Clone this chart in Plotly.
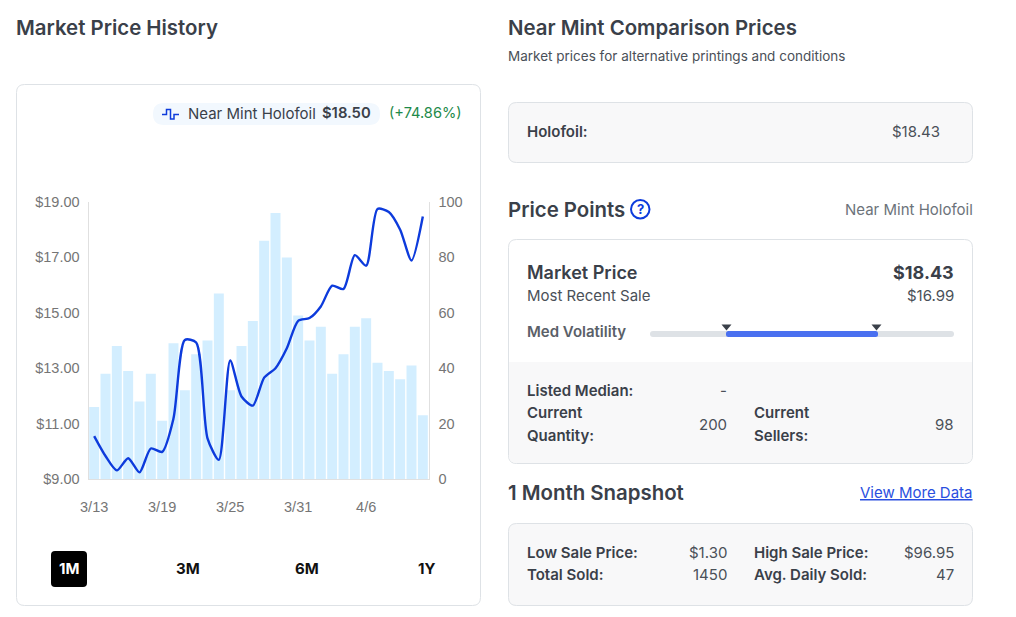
import plotly.graph_objects as go

W, H = 1016, 617

dates = ["3/13","3/14","3/15","3/16","3/17","3/18","3/19","3/20","3/21","3/22",
         "3/23","3/24","3/25","3/26","3/27","3/28","3/29","3/30","3/31","4/1",
         "4/2","4/3","4/4","4/5","4/6","4/7","4/8","4/9","4/10","4/11"]
prices = [10.55,9.83,9.31,9.75,9.24,10.10,9.98,11.19,14.02,13.93,
          10.47,9.69,13.28,11.98,11.65,12.66,13.00,13.72,14.71,14.81,
          15.23,15.98,15.86,17.08,16.70,18.75,18.64,18.00,16.89,18.48]
sold = [26,38,48,39,28,38,21,49,32,45,50,67,32,48,57,86,96,80,59,50,
        55,38,45,55,58,42,39,36,41,23]
price_ticks = [9,11,13,15,17,19]
price_labels = ["$9.00","$11.00","$13.00","$15.00","$17.00","$19.00"]
sold_ticks = [0,20,40,60,80,100]
date_ticks = ["3/13","3/19","3/25","3/31","4/6"]

DARK = "#3a4049"
MID = "#4a5058"
GREY = "#6c737a"
BORDER = "#dee2e6"
PANEL = "#f8f8f9"
BLUE = "#0d3bdc"
FONT = "Inter"


def px(x):
    return x / W


def py(y):
    return 1 - y / H


def rr(x0, y0, x1, y1, r=8, rb=None):
    """Rounded rect as an SVG path in paper units (rb: bottom radius)."""
    rb = r if rb is None else rb
    pts = [
        f"M{px(x0+r)},{py(y0)}", f"L{px(x1-r)},{py(y0)}",
        f"Q{px(x1)},{py(y0)} {px(x1)},{py(y0+r)}",
        f"L{px(x1)},{py(y1-rb)}",
        f"Q{px(x1)},{py(y1)} {px(x1-rb)},{py(y1)}",
        f"L{px(x0+rb)},{py(y1)}",
        f"Q{px(x0)},{py(y1)} {px(x0)},{py(y1-rb)}",
        f"L{px(x0)},{py(y0+r)}",
        f"Q{px(x0)},{py(y0)} {px(x0+r)},{py(y0)}", "Z",
    ]
    return "".join(pts)


shapes = []


def box(x0, y0, x1, y1, r=8, fill="white", line=BORDER, lw=1, rb=None):
    shapes.append(dict(type="path", xref="paper", yref="paper", layer="below",
                       path=rr(x0, y0, x1, y1, r, rb), fillcolor=fill,
                       line=dict(color=line, width=lw)))


def poly(points, fill=None, line=None, lw=1.5, close=False):
    p = "M" + "L".join(f"{px(a)},{py(b)}" for a, b in points) + ("Z" if close else "")
    shapes.append(dict(type="path", xref="paper", yref="paper", layer="above", path=p,
                       fillcolor=fill if fill else "rgba(0,0,0,0)",
                       line=dict(color=line if line else "rgba(0,0,0,0)", width=lw if line else 0)))


annotations = []


def txt(x, y, s, size=15, color=DARK, weight=400, anchor="left", **kw):
    f = dict(family=FONT, size=size, color=color, weight=weight)
    f.update(kw)
    annotations.append(dict(xref="paper", yref="paper", x=px(x), y=py(y), text=s,
                            showarrow=False, xanchor=anchor, yanchor="middle",
                            borderpad=0, borderwidth=0, font=f))


# cards
box(16.5, 84.5, 480.5, 605.5)
box(508.5, 102.5, 972.5, 162.5, fill=PANEL)
box(508.5, 239.5, 972.5, 463.5)
shapes.append(dict(type="path", xref="paper", yref="paper", layer="below",
                   path=rr(509, 362, 972, 463, 0.1, 8), fillcolor=PANEL,
                   line=dict(width=0)))
box(508.5, 523.5, 972.5, 605.5, fill=PANEL)

# legend pill + step icon
box(153, 103, 380, 125, r=11, fill="#f2f8fe", line="#f2f8fe", lw=0)
poly([(162, 114.5), (166.5, 114.5), (166.5, 109.5), (170.5, 109.5), (170.5, 119),
      (174, 119), (174, 114.5), (179, 114.5)], line=BLUE, lw=1.5)

# range buttons
box(51, 551, 87, 587, r=4, fill="#000000", line="#000000", lw=0)

# volatility track
box(650, 331, 954, 337, r=3, fill=BORDER, line=BORDER, lw=0)
box(726, 331, 878, 337, r=2.5, fill="#4a70f0", line="#4a70f0", lw=0)
poly([(721.5, 324.5), (731.5, 324.5), (726.5, 330.5)], fill=DARK, close=True)
poly([(871.5, 324.5), (881.5, 324.5), (876.5, 330.5)], fill=DARK, close=True)

# help icon
shapes.append(dict(type="circle", xref="paper", yref="paper", layer="above",
                   x0=px(631), x1=px(649.5), y0=py(218.5), y1=py(200),
                   line=dict(color=BLUE, width=2), fillcolor="rgba(0,0,0,0)"))
txt(640.2, 209, "?", 13, BLUE, 700, "center")

# headings
txt(16, 27, "Market Price History", 20.4, DARK, 600)
txt(508, 27, "Near Mint Comparison Prices", 20.4, DARK, 600)
txt(508, 56, "Market prices for alternative printings and conditions", 13.5, MID)
txt(508, 209.5, "Price Points", 20.4, DARK, 600)
txt(973, 209, "Near Mint Holofoil", 15, GREY, 400, "right")
txt(508, 492, "1 Month Snapshot", 20.4, DARK, 600)
txt(973, 492, "View More Data", 15, "#2a4fe0", 400, "right", lineposition="under")

# legend text
txt(188, 113.5, "Near Mint Holofoil", 15, DARK)
txt(371, 113.5, "$18.50", 14.8, DARK, 600, "right")
txt(462, 113.5, "(+74.86%)", 14.6, "#1e8a4a", 400, "right")

# buttons
txt(69, 568, "1M", 15, "#ffffff", 700, "center")
txt(188, 568, "3M", 15, "#111111", 700, "center")
txt(307, 568, "6M", 15, "#111111", 700, "center")
txt(426, 568, "1Y", 15, "#111111", 700, "center")

# holofoil
txt(527, 131.5, "Holofoil:", 15, DARK, 600)
txt(940, 131.5, "$18.43", 15, MID, 400, "right")

# market panel
txt(527, 272, "Market Price", 18, DARK, 600)
txt(954, 272, "$18.43", 18, DARK, 700, "right")
txt(527, 295.5, "Most Recent Sale", 15, MID)
txt(954, 295.5, "$16.99", 15, MID, 400, "right")
txt(527, 331.5, "Med Volatility", 15, "#5a6068", 600)
txt(527, 390.5, "Listed Median:", 15, DARK, 600)
txt(727, 390.5, "-", 15, MID, 400, "right")
txt(527, 412.5, "Current", 15, DARK, 600)
txt(527, 435.5, "Quantity:", 15, DARK, 600)
txt(727, 424.5, "200", 15, MID, 400, "right")
txt(754, 412.5, "Current", 15, DARK, 600)
txt(754, 435.5, "Sellers:", 15, DARK, 600)
txt(954, 424.5, "98", 15, MID, 400, "right")

# snapshot
txt(527, 552.5, "Low Sale Price:", 15, DARK, 600)
txt(727, 552.5, "$1.30", 15, MID, 400, "right")
txt(754, 552.5, "High Sale Price:", 15, DARK, 600)
txt(954, 552.5, "$96.95", 15, MID, 400, "right")
txt(527, 574.5, "Total Sold:", 15, DARK, 600)
txt(727, 574.5, "1450", 15, MID, 400, "right")
txt(754, 574.5, "Avg. Daily Sold:", 15, DARK, 600)
txt(954, 574.5, "47", 15, MID, 400, "right")

fig = go.Figure()
fig.add_trace(go.Bar(x=dates, y=sold, yaxis="y2", marker=dict(color="#d3eeff", line=dict(width=0)),
                     width=0.88, showlegend=False))
fig.add_trace(go.Scatter(x=dates, y=prices, yaxis="y", mode="lines", showlegend=False,
                         line=dict(color=BLUE, width=2.4, shape="spline", smoothing=0.7)))

axis_font = dict(family="Liberation Sans, Arial", size=14.5, color="#757575")
dom_y = [py(479), py(202)]
fig.update_layout(
    width=W, height=H, autosize=False,
    margin=dict(l=0, r=0, t=0, b=0, pad=0, autoexpand=False),
    paper_bgcolor="white", plot_bgcolor="rgba(0,0,0,0)",
    showlegend=False,
    shapes=shapes, annotations=annotations,
    xaxis=dict(domain=[px(88.5), px(428.5)], type="category", categoryorder="array",
               categoryarray=dates, range=[-0.5, 29.5], tickmode="array",
               tickvals=date_ticks, ticktext=date_ticks, showgrid=False, ticks="outside",
               ticklen=15, tickcolor="rgba(0,0,0,0)", showline=True, linecolor="#e0e0e0", linewidth=1,
               tickfont=axis_font, zeroline=False, anchor="y"),
    yaxis=dict(domain=dom_y, range=[9, 19], tickmode="array",
               tickvals=price_ticks, ticktext=price_labels, showgrid=False,
               showline=True, linecolor="#e0e0e0", linewidth=1, tickfont=axis_font,
               ticks="outside", ticklen=5, tickcolor="rgba(0,0,0,0)", zeroline=False,
               layer="above traces", overlaying="y2", anchor="x"),
    yaxis2=dict(domain=dom_y, range=[0, 100], tickmode="array",
                tickvals=sold_ticks, showgrid=False, side="right",
                showline=True, linecolor="#e0e0e0", linewidth=1, tickfont=axis_font,
                ticks="outside", ticklen=6, tickcolor="rgba(0,0,0,0)", zeroline=False, anchor="x"),
)

fig.write_html("out.html", config=dict(displayModeBar=False),
               post_script="document.body.style.margin='0';document.body.style.overflow='hidden';")
